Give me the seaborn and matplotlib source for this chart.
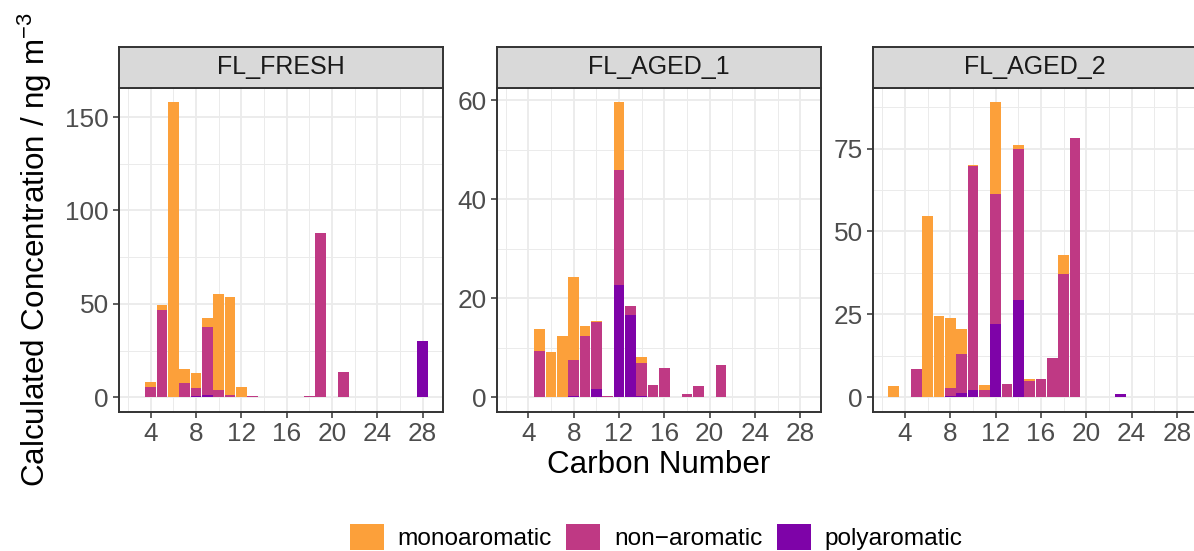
import matplotlib
matplotlib.use("Agg")
import matplotlib.pyplot as plt
from matplotlib.patches import Patch
from matplotlib.ticker import MultipleLocator
import pandas as pd
import seaborn as sns

# ---- data -------------------------------------------------------------
panels = ["FL_FRESH", "FL_AGED_1", "FL_AGED_2"]
classes = ["monoaromatic", "non-aromatic", "polyaromatic"]
class_labels = ["monoaromatic", "non\u2212aromatic", "polyaromatic"]
colors = ["#FCA03A", "#BF3984", "#7E03A8"]

fresh_mono_c = [4, 5, 6, 7, 8, 9, 10, 11, 12]
fresh_mono_v = [8.0, 49.2, 157.8, 15.0, 12.8, 42.2, 55.1, 53.5, 5.3]
fresh_non_c = [4, 5, 7, 8, 9, 10, 11, 12, 13, 18, 19, 21]
fresh_non_v = [5.3, 46.7, 7.5, 4.8, 37.4, 3.7, 1.1, 0.3, 0.5, 0.5, 87.7, 13.4]
fresh_poly_c = [8, 9, 10, 28]
fresh_poly_v = [0.7, 1.1, 0.3, 29.9]

aged1_mono_c = [5, 6, 7, 8, 9, 10, 12, 14]
aged1_mono_v = [13.9, 9.1, 12.3, 24.4, 14.5, 15.4, 59.6, 8.1]
aged1_non_c = [5, 8, 9, 10, 11, 12, 13, 14, 15, 16, 18, 19, 21]
aged1_non_v = [9.3, 7.5, 12.3, 15.2, 0.2, 45.9, 18.4, 6.9, 2.4, 5.9, 0.6, 2.2, 6.5]
aged1_poly_c = [8, 9, 10, 11, 12, 13, 14]
aged1_poly_v = [0.2, 0.1, 1.6, 0.1, 22.6, 16.6, 0.2]

aged2_mono_c = [3, 6, 7, 8, 9, 10, 11, 12, 14, 15, 18]
aged2_mono_v = [3.3, 54.7, 24.6, 24.0, 20.7, 70.0, 3.6, 88.9, 76.0, 5.4, 42.9]
aged2_non_c = [5, 8, 9, 10, 11, 12, 13, 14, 15, 16, 17, 18, 19, 20]
aged2_non_v = [8.4, 2.7, 12.9, 69.7, 2.1, 61.3, 3.9, 74.8, 4.8, 5.4, 11.7, 37.2, 78.1, 0.2]
aged2_poly_c = [8, 9, 10, 11, 12, 14, 23]
aged2_poly_v = [0.3, 1.2, 2.1, 0.2, 22.2, 29.4, 0.9]

x_ticks = [4, 8, 12, 16, 20, 24, 28]
y_steps = [50, 20, 25]

series = {
    "FL_FRESH": [(fresh_mono_c, fresh_mono_v), (fresh_non_c, fresh_non_v), (fresh_poly_c, fresh_poly_v)],
    "FL_AGED_1": [(aged1_mono_c, aged1_mono_v), (aged1_non_c, aged1_non_v), (aged1_poly_c, aged1_poly_v)],
    "FL_AGED_2": [(aged2_mono_c, aged2_mono_v), (aged2_non_c, aged2_non_v), (aged2_poly_c, aged2_poly_v)],
}

rows = []
for p in panels:
    for cls, (cs, vs) in zip(classes, series[p]):
        for c, v in zip(cs, vs):
            rows.append({"sample": p, "class": cls, "carbon": c, "conc": v})
df = pd.DataFrame(rows)

# ---- styling ----------------------------------------------------------
plt.rcParams["font.family"] = ["Liberation Sans", "DejaVu Sans"]
plt.rcParams["mathtext.fontset"] = "custom"
plt.rcParams["mathtext.rm"] = "Liberation Sans"
plt.rcParams["mathtext.it"] = "Liberation Sans:italic"

W, H = 1194, 551
fig = plt.figure(figsize=(W / 100, H / 100), dpi=100)

small = 17.6
tick_size = 18.8
big = 22.6
dark = "#333333"
grid_c = "#EBEBEB"

panel_left = [119, 496.7, 873.3]
panel_w = 324
panel_top, panel_bot = 87.7, 412
strip_top = 46.7

all_c = df["carbon"]
xmin, xmax = all_c.min() - 0.5, all_c.max() + 0.5
xpad = 0.05 * (xmax - xmin)

for i, p in enumerate(panels):
    l = panel_left[i]
    ax = fig.add_axes([l / W, 1 - panel_bot / H, panel_w / W, (panel_bot - panel_top) / H])
    sub = df[df["sample"] == p]
    sns.barplot(data=sub, x="carbon", y="conc", hue="class", hue_order=classes,
                palette=colors, dodge=False, native_scale=True, width=0.95,
                errorbar=None, legend=False, saturation=1, ax=ax)
    ymax = sub["conc"].max()
    ax.set_ylim(-0.05 * ymax, 1.05 * ymax)
    ax.set_xlim(xmin - xpad, xmax + xpad)
    ax.set_xticks(x_ticks)
    ax.xaxis.set_minor_locator(MultipleLocator(2))
    ax.yaxis.set_major_locator(MultipleLocator(y_steps[i]))
    ax.yaxis.set_minor_locator(MultipleLocator(y_steps[i] / 2))
    ax.set_axisbelow(True)
    ax.grid(which="major", color=grid_c, linewidth=1.3)
    ax.grid(which="minor", color=grid_c, linewidth=0.7)
    ax.set_xlabel("")
    ax.set_ylabel("")
    ax.tick_params(which="major", length=4, width=1.1, color=dark,
                   labelsize=tick_size, labelcolor="#4D4D4D", pad=3.5)
    ax.tick_params(which="minor", length=0)
    for s in ax.spines.values():
        s.set_color(dark)
        s.set_linewidth(1.4)
    ax.set_facecolor("white")

    # facet strip
    sax = fig.add_axes([l / W, 1 - panel_top / H, panel_w / W, (panel_top - strip_top) / H])
    sax.set_facecolor("#D9D9D9")
    sax.set_xticks([])
    sax.set_yticks([])
    for s in sax.spines.values():
        s.set_color(dark)
        s.set_linewidth(1.4)
    sax.text(0.5, 0.5, p, ha="center", va="center", fontsize=18,
             color="#1A1A1A", transform=sax.transAxes)

fig.text(658.7 / W, 1 - 465 / H, "Carbon Number", ha="center", va="center",
         fontsize=big, color="black")
fig.text(35 / W, 1 - 250 / H, r"Calculated Concentration / ng m$^{-3}$",
         ha="center", va="center", rotation=90, fontsize=big, color="black")

handles = [Patch(facecolor=c, edgecolor="none") for c in colors]
fig.legend(handles, class_labels, loc="center", ncol=3,
           bbox_to_anchor=(656 / W, 1 - 537 / H), frameon=False,
           fontsize=small, handlelength=1.4, handleheight=1.3,
           handletextpad=0.55, columnspacing=0.6, borderpad=0)

fig.savefig("out.png", dpi=100)
